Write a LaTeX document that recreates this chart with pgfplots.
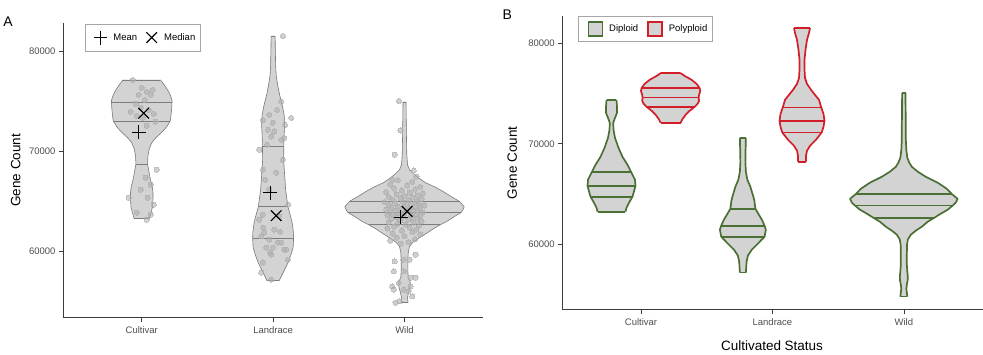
\documentclass[border=0pt]{standalone}
\usepackage{fontspec}
\setmainfont{Liberation Sans}
\usepackage{pgfplots}
\pgfplotsset{compat=1.18}
\usepackage{pgfplotstable}

\definecolor{vfill}{RGB}{211,211,211}
\definecolor{vline}{RGB}{125,125,125}
\definecolor{dipg}{RGB}{75,112,52}
\definecolor{polr}{RGB}{210,30,40}
\definecolor{axcol}{RGB}{60,60,60}
\definecolor{tickcol}{RGB}{77,77,77}
\definecolor{ptcol}{RGB}{175,175,175}

% ---------- Panel A violins: value v, half width w (px; 131.5 px = 1 category) ----------
\pgfplotstableread{
v w
77110 18.7
76620 22.5
76120 25.8
75620 28.5
75120 30.2
74930 30.3
74530 30.1
74130 29.8
73530 29.2
73030 28.5
72440 25
71940 20.5
71340 14
70850 10
70250 7.5
69550 6.2
68730 5.8
67960 7.2
67160 8.7
66470 10.5
65870 11.3
65170 11.2
64480 10.8
63880 9.3
63280 7.5
}\cultA
\pgfplotstableread{
v w
81490 2
80100 2.2
78610 2.5
77610 3
76620 4.5
75620 6.5
74630 9
73630 11
72640 11.5
71640 11
70480 10.7
69150 10.5
67660 11.5
66170 12.5
64510 14.7
63680 17
62890 19
61990 20.2
61360 20.5
60400 20
59600 17.5
58810 14.5
58010 10.5
57110 6
}\landA
\pgfplotstableread{
v w
74930 1.5
73130 1.7
71140 2
69650 2.3
68660 3
68160 5
67760 9
67360 14
66870 21
66470 30
65970 39
65470 47
65010 55
64480 59.7
64180 58.5
63910 56.7
63380 48
62990 42
62690 36
62290 29
61890 23
61390 15
60900 8
60500 5
60000 3.8
59200 3.3
58210 3.3
57510 3.6
56920 5.8
56420 5.5
55920 4
55420 3
54930 3.5
}\wildA

% ---------- Panel B violins ----------
\pgfplotstableread{
v w
74360 5
73660 5.5
73070 5.5
72570 3.5
72080 1.7
71390 2
70590 3.5
69600 7
68710 11
67920 16
67230 19.5
66440 23.5
65840 24
65450 23
64750 21
64060 17
63660 15
63270 14
}\cultDip
\pgfplotstableread{
v w
77030 9.5
76730 14
76340 21
75940 26
75540 29
75250 29.7
74850 28.5
74580 28
74260 28.5
73960 27
73660 24
73270 19
72870 15
72470 12
72080 10
}\cultPol
\pgfplotstableread{
v w
70590 3
69410 2.7
68220 2.5
67230 3
66440 4.5
65740 7.5
64750 10.5
64360 11.5
63560 12.5
62970 16
62480 19
61880 21.7
61490 23
60790 21.7
60200 16
59510 9
58910 5
58320 3.7
57230 3
}\landDip
\pgfplotstableread{
v w
81480 8
80990 7
80300 5
79310 3.5
78320 2.5
77330 2.5
76530 3
75940 5
75350 9
74850 13
74360 17
73590 19.3
72970 21.5
72280 22.5
71680 21.5
71120 19.7
70400 14
69800 8
69310 5
68810 4
68220 4
}\landPol
\pgfplotstableread{
v w
75050 1.7
73370 1.8
71880 2
70400 2
69410 2.5
68610 3.5
68120 5.5
67720 8
67230 14
66730 22
66140 34
65540 43
65020 48
64550 53.8
64160 52
63890 49
63470 44
63070 37
62640 30
62280 24
61780 18
61390 12
60990 7
60500 4
60000 3.2
59010 3
58020 3
57330 3.5
56830 4
56440 3.8
56040 3
55640 2.5
55250 3
54850 3.5
}\wildB

% #1 centre, #2 table, #3 top value, #4 bottom value, #5 outline style
\newcommand\violin[5]{%
  \addplot[forget plot, fill=vfill, draw=vfill, line width=0.4pt]
    table[x expr={#1+\thisrow{w}/131.5}, y=v]{#2}
    -- (axis cs:#1-0.004,#4) -- (axis cs:#1-0.004,#3) -- cycle;
  \addplot[forget plot, fill=vfill, draw=vfill, line width=0.4pt]
    table[x expr={#1-\thisrow{w}/131.5}, y=v]{#2}
    -- (axis cs:#1+0.004,#4) -- (axis cs:#1+0.004,#3) -- cycle;
  \addplot[forget plot, line join=round, #5] table[x expr={#1+\thisrow{w}/131.5}, y=v]{#2};
  \addplot[forget plot, line join=round, #5] table[x expr={#1-\thisrow{w}/131.5}, y=v]{#2};
}

\pgfplotsset{
  panel/.style={
    scale only axis, width=421pt,
    xmin=0.4, xmax=3.6,
    axis x line*=bottom, axis y line*=left,
    axis line style={axcol, line width=0.7pt, -},
    every outer x axis line/.append style={-},
    every outer y axis line/.append style={-},
    xtick={1,2,3}, xticklabels={Cultivar,Landrace,Wild},
    ytick={60000,70000,80000}, scaled y ticks=false,
    /pgf/number format/assume math mode=true,
    yticklabel style={/pgf/number format/1000 sep={}},
    xticklabel style={yshift=-2pt},
    tick align=outside, major tick length=4pt,
    tick style={axcol, line width=0.6pt},
    ticklabel style={font=\fontsize{9.5}{11}\selectfont, text=tickcol},
    label style={font=\fontsize{13.5}{15}\selectfont},
  }
}

\begin{document}
\begin{tikzpicture}
\path (0pt,0pt) rectangle (983pt,355pt);

% ================= Panel A =================
\begin{axis}[panel, at={(62pt,37pt)}, anchor=south west, height=295pt,
  ymin=53433, ymax=82786,
  ylabel={Gene Count},
  ylabel style={at={(axis description cs:-0.112,0.5)}, anchor=center},
  legend style={at={(axis description cs:0.052,0.997)}, anchor=north west,
    draw=gray!70, line width=0.5pt, fill=white,
    font=\fontsize{9.5}{11}\selectfont, inner xsep=3pt, inner ysep=6.5pt,
    /tikz/every odd column/.append style={column sep=4pt},
    /tikz/every even column/.append style={column sep=0pt}},
  legend columns=-1,
  mk/.style={legend image code/.code={\path[draw=none] (0pt,-7pt) -- (19pt,7pt);
      \draw[##1] plot coordinates {(12.5pt,0pt)};}},
]
\violin{1}{\cultA}{77110}{63280}{vline, line width=0.6pt}
\violin{2}{\landA}{81490}{57110}{vline, line width=0.6pt}
\violin{3}{\wildA}{74930}{54930}{vline, line width=0.6pt}

% top/bottom edges and quantile lines
\addplot[forget plot, vline, line width=0.6pt] coordinates {(0.8578,77110) (1.1422,77110)};
\addplot[forget plot, vline, line width=0.6pt] coordinates {(0.9430,63280) (1.0570,63280)};
\addplot[forget plot, vline, line width=0.6pt] coordinates {(1.9848,81490) (2.0152,81490)};
\addplot[forget plot, vline, line width=0.6pt] coordinates {(1.9544,57110) (2.0456,57110)};
\addplot[forget plot, vline, line width=0.6pt] coordinates {(2.9886,74930) (3.0114,74930)};
\addplot[forget plot, vline, line width=0.6pt] coordinates {(2.9734,54930) (3.0266,54930)};
\addplot[forget plot, vline, line width=0.6pt] coordinates {(0.7696,74930) (1.2304,74930)};
\addplot[forget plot, vline, line width=0.6pt] coordinates {(0.7833,73030) (1.2167,73030)};
\addplot[forget plot, vline, line width=0.6pt] coordinates {(0.9559,68730) (1.0441,68730)};
\addplot[forget plot, vline, line width=0.6pt] coordinates {(1.9186,70480) (2.0814,70480)};
\addplot[forget plot, vline, line width=0.6pt] coordinates {(1.8882,64510) (2.1118,64510)};
\addplot[forget plot, vline, line width=0.6pt] coordinates {(1.8441,61360) (2.1559,61360)};
\addplot[forget plot, vline, line width=0.6pt] coordinates {(2.5817,65010) (3.4183,65010)};
\addplot[forget plot, vline, line width=0.6pt] coordinates {(2.5688,63910) (3.4312,63910)};
\addplot[forget plot, vline, line width=0.6pt] coordinates {(2.7262,62690) (3.2738,62690)};

% jittered points
\addplot[forget plot, only marks, mark=*, mark size=2.6pt, color=ptcol,
  mark options={draw=ptcol, fill=ptcol, line width=0pt}, opacity=0.6] coordinates {
(0.932,77110) (1.084,76120) (1.000,76320) (1.038,75920) (0.977,75620) (1.068,75620)
(1.023,75120) (0.954,74730) (0.992,74330) (1.053,74130) (1.091,73730) (0.962,73530)
(1.008,73330) (0.916,73930) (1.106,72940) (1.038,72540) (1.030,67360) (1.068,66670)
(0.901,65370) (1.046,65370) (1.091,64680) (0.962,63880) (1.068,63680) (1.038,63180)
(0.992,66170) (1.114,68160)
(2.074,81490) (2.061,74950) (1.922,73130) (1.970,73630) (1.998,72840) (1.960,72140)
(2.008,71970) (2.061,71140) (2.084,71340) (1.985,71470) (1.954,70650) (2.074,69150)
(1.922,68160) (2.023,67860) (1.970,66170) (1.922,63680) (2.046,63510) (2.008,62190)
(1.932,61890) (1.909,61520) (1.970,61190) (2.036,60900) (1.947,60400) (2.084,60200)
(1.985,59700) (1.922,58910) (2.112,59200) (1.909,57910) (1.985,57210) (2.061,60900)
(1.998,60400) (2.099,60200) (1.977,59900) (1.894,63180) (2.114,64680) (1.939,67160)
(2.091,72640) (1.894,70150) (2.137,73330) (2.030,74130) (1.924,62390) (2.053,61990)
(2.957,75020) (2.970,72070) (2.926,69650) (3.071,68090) (3.091,67460) (2.906,67160)
(2.926,59030) (2.919,58040) (2.990,59200) (3.038,59200) (3.084,59700) (2.995,58040)
(3.084,57410) (3.046,57410) (2.957,56890) (2.906,56550) (2.919,56220) (3.046,56550)
(3.030,56050) (3.059,55550) (2.932,54900) (2.962,55050) (2.995,56220)
(2.95,67100) (3.06,66950) (2.89,66700) (3.02,66600) (3.12,66450) (2.92,66300)
(3.08,66200) (2.98,66100) (2.86,65950) (3.04,65900) (3.14,65800) (2.94,65700)
(3.10,65600) (3.00,65550) (2.88,65450) (3.06,65400) (2.97,65300) (3.13,65250)
(2.91,65150) (3.03,65100) (3.09,65000) (2.85,64950) (2.99,64900) (3.11,64850)
(2.93,64800) (3.05,64750) (2.88,64650) (3.15,64600) (3.01,64550) (2.95,64500)
(3.08,64450) (2.90,64400) (3.12,64350) (2.98,64300) (3.04,64250) (2.86,64200)
(3.10,64150) (2.93,64100) (3.02,64050) (3.07,64000) (2.89,63950) (3.14,63900)
(2.96,63850) (3.00,63800) (3.09,63750) (2.91,63700) (3.05,63650) (2.87,63600)
(3.12,63550) (2.99,63500) (3.06,63450) (2.94,63400) (3.10,63300) (2.90,63250)
(3.03,63200) (2.97,63100) (3.13,63050) (2.88,62950) (3.07,62900) (2.95,62800)
(3.01,62700) (3.11,62600) (2.92,62500) (3.04,62400) (2.87,62300) (3.09,62200)
(2.98,62100) (3.06,61950) (2.91,61800) (3.12,61700) (3.00,61550) (2.94,61400)
(3.08,61250) (2.89,61100) (3.03,60950) (2.97,60800)
};

\addplot[only marks, mk, mark=+, mark size=7pt, mark options={black, line width=1.2pt}]
  coordinates {(0.977,71910) (1.977,65870) (2.970,63410)};
\addlegendentry{Mean}
\addplot[only marks, mk, mark=x, mark size=7.5pt, mark options={black, line width=1.2pt}]
  coordinates {(1.015,73800) (2.023,63580) (3.020,64010)};
\addlegendentry{Median}
\end{axis}

% ================= Panel B =================
\begin{axis}[panel, at={(562pt,45pt)}, anchor=south west, height=294pt,
  ymin=53565, ymax=82671,
  ylabel={Gene Count},
  ylabel style={at={(axis description cs:-0.119,0.5)}, anchor=center},
  xlabel={Cultivated Status},
  xlabel style={at={(axis description cs:0.499,-0.122)}, anchor=center},
  legend style={at={(axis description cs:0.038,1.0)}, anchor=north west,
    draw=gray!70, line width=0.5pt, fill=white,
    font=\fontsize{9.5}{11}\selectfont, inner xsep=3pt, inner ysep=5pt,
    /tikz/every odd column/.append style={column sep=4pt},
    /tikz/every even column/.append style={column sep=1pt}},
  legend columns=-1,
  sq/.style={legend image code/.code={\path[draw=none] (0pt,0pt) -- (21pt,0pt);
      \draw[##1] (7pt,-7pt) rectangle (21pt,7pt);}},
]
\violin{0.775}{\cultDip}{74360}{63270}{dipg, line width=1.7pt}
\violin{1.225}{\cultPol}{77030}{72080}{polr, line width=1.7pt}
\violin{1.775}{\landDip}{70590}{57230}{dipg, line width=1.7pt}
\violin{2.225}{\landPol}{81480}{68220}{polr, line width=1.7pt}
\violin{3}{\wildB}{75050}{54850}{dipg, line width=1.7pt}

% top/bottom edges
\addplot[forget plot, dipg, line width=1.7pt] coordinates {(0.7370,74360) (0.8130,74360)};
\addplot[forget plot, dipg, line width=1.7pt] coordinates {(0.6685,63270) (0.8815,63270)};
\addplot[forget plot, polr, line width=1.7pt] coordinates {(1.1528,77030) (1.2972,77030)};
\addplot[forget plot, polr, line width=1.7pt] coordinates {(1.1490,72080) (1.3010,72080)};
\addplot[forget plot, dipg, line width=1.7pt] coordinates {(1.7522,70590) (1.7978,70590)};
\addplot[forget plot, dipg, line width=1.7pt] coordinates {(1.7522,57230) (1.7978,57230)};
\addplot[forget plot, polr, line width=1.7pt] coordinates {(2.1642,81480) (2.2858,81480)};
\addplot[forget plot, polr, line width=1.7pt] coordinates {(2.1946,68220) (2.2554,68220)};
\addplot[forget plot, dipg, line width=1.7pt] coordinates {(2.9871,75050) (3.0129,75050)};
\addplot[forget plot, dipg, line width=1.7pt] coordinates {(2.9734,54850) (3.0266,54850)};
% quantile lines
\addplot[forget plot, dipg, line width=1.7pt] coordinates {(0.6267,67230) (0.9233,67230)};
\addplot[forget plot, dipg, line width=1.7pt] coordinates {(0.5925,65840) (0.9575,65840)};
\addplot[forget plot, dipg, line width=1.7pt] coordinates {(0.6153,64750) (0.9347,64750)};
\addplot[forget plot, polr, line width=1.7pt] coordinates {(1.0045,75540) (1.4455,75540)};
\addplot[forget plot, polr, line width=1.7pt] coordinates {(1.0121,74580) (1.4379,74580)};
\addplot[forget plot, polr, line width=1.7pt] coordinates {(1.0425,73660) (1.4075,73660)};
\addplot[forget plot, dipg, line width=1.7pt] coordinates {(1.6799,63560) (1.8701,63560)};
\addplot[forget plot, dipg, line width=1.7pt] coordinates {(1.6100,61880) (1.9400,61880)};
\addplot[forget plot, dipg, line width=1.7pt] coordinates {(1.6100,60790) (1.9400,60790)};
\addplot[forget plot, polr, line width=1.7pt] coordinates {(2.0782,73590) (2.3718,73590)};
\addplot[forget plot, polr, line width=1.7pt] coordinates {(2.0539,72280) (2.3961,72280)};
\addplot[forget plot, polr, line width=1.7pt] coordinates {(2.0752,71120) (2.3748,71120)};
\addplot[forget plot, dipg, line width=1.7pt] coordinates {(2.6350,65020) (3.3650,65020)};
\addplot[forget plot, dipg, line width=1.7pt] coordinates {(2.6274,63890) (3.3726,63890)};
\addplot[forget plot, dipg, line width=1.7pt] coordinates {(2.7719,62640) (3.2281,62640)};

\addlegendimage{sq, fill=vfill, draw=dipg, line width=1.5pt}
\addlegendentry{Diploid}
\addlegendimage{sq, fill=vfill, draw=polr, line width=1.5pt}
\addlegendentry{Polyploid}
\end{axis}

\node[font=\fontsize{14}{16}\selectfont] at (7pt,333pt) {A};
\node[font=\fontsize{14}{16}\selectfont] at (507pt,340.5pt) {B};
\end{tikzpicture}
\end{document}
